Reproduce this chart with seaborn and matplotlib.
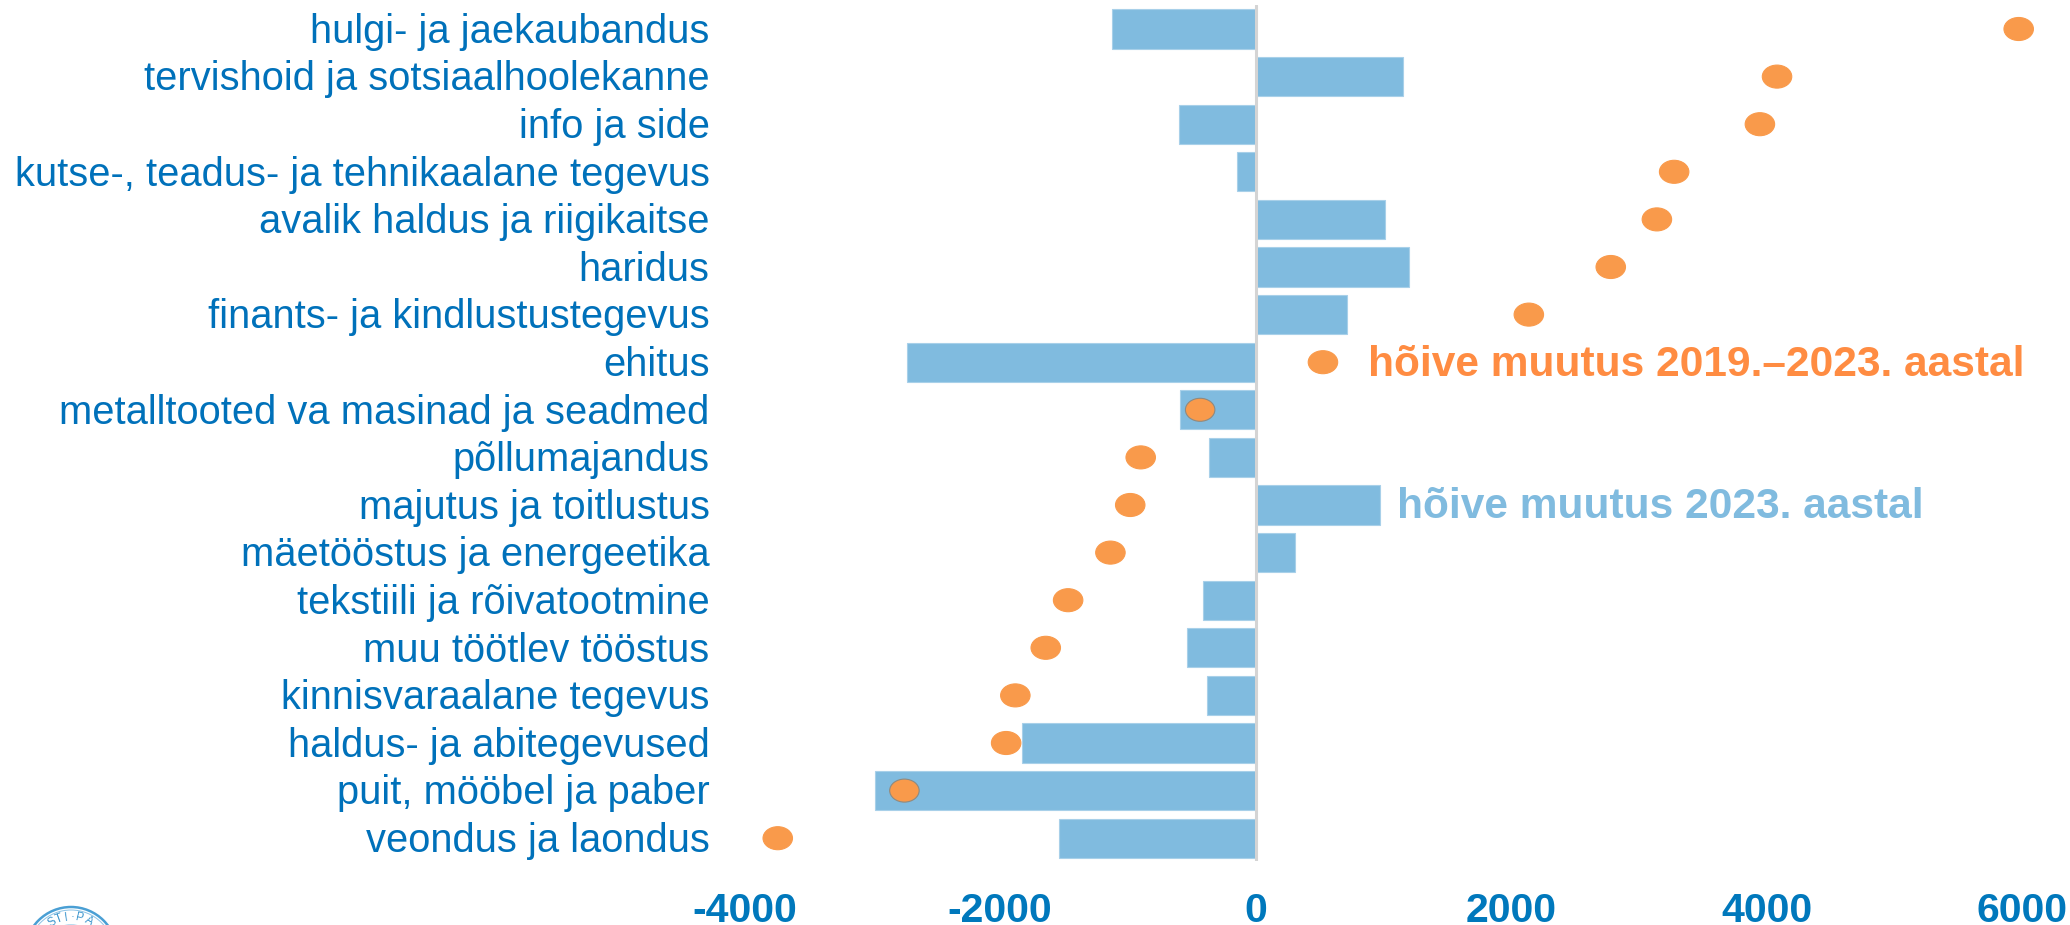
import math
import matplotlib
matplotlib.use("Agg")
import matplotlib.pyplot as plt
from matplotlib.path import Path
from matplotlib.patches import Circle
from matplotlib.transforms import Affine2D, IdentityTransform, ScaledTranslation
import pandas as pd
import seaborn as sns

categories = ["hulgi- ja jaekaubandus", "tervishoid ja sotsiaalhoolekanne", "info ja side",
              "kutse-, teadus- ja tehnikaalane tegevus", "avalik haldus ja riigikaitse", "haridus",
              "finants- ja kindlustustegevus", "ehitus", "metalltooted va masinad ja seadmed",
              "põllumajandus", "majutus ja toitlustus", "mäetööstus ja energeetika",
              "tekstiili ja rõivatootmine", "muu töötlev tööstus", "kinnisvaraalane tegevus",
              "haldus- ja abitegevused", "puit, mööbel ja paber", "veondus ja laondus"]
change_2023 = [-1126, 1157, -599, -145, 1012, 1198, 713, -2727, -589,
               -362, 971, 310, -413, -537, -382, -1828, -2975, -1539]
change_2019_2023 = [5971, 4080, 3946, 3275, 3140, 2779, 2138, 527, -434,
                    -899, -981, -1136, -1467, -1642, -1880, -1952, -2748, -3739]
x_ticks = [-4000, -2000, 0, 2000, 4000, 6000]
x_tick_labels = ["-4000", "-2000", "0", "2000", "4000", "6000"]
label_2023 = "hõive muutus 2023. aastal"
label_period = "hõive muutus 2019.–2023. aastal"

BAR = "#80BBDF"
DOT = "#F99A4B"
DOT_EDGE = "#8F8A80"
BLUE = "#0071BA"
TICK = "#0078BC"
ORANGE = "#FF8C42"
W, H = 2070, 925

sns.set_theme(style="white")
plt.rcParams["font.family"] = ["Liberation Sans", "DejaVu Sans"]

df = pd.DataFrame({"cat": categories, "a": change_2023, "b": change_2019_2023})
fig = plt.figure(figsize=(W / 100, H / 100), dpi=100, facecolor="white")
left, right, top, bottom = 744.4, 2022.4, 5, 861
ax = fig.add_axes([left / W, 1 - bottom / H, (right - left) / W, (bottom - top) / H])

sns.barplot(data=df, y="cat", x="a", orient="y", color=BAR, saturation=1, width=0.82,
            edgecolor="#A8D0E9", linewidth=0.8, ax=ax)
# Dots lying on a bar show a thin grey rim in the reference
edges = [DOT_EDGE if a * b > 0 and abs(b) < abs(a) else DOT
         for a, b in zip(change_2023, change_2019_2023)]
ellipse = Path.unit_circle().transformed(Affine2D().scale(1.28, 1.0))
sns.scatterplot(data=df, y="cat", x="b", marker=ellipse, s=450, color=DOT, edgecolor=edges,
                linewidth=0.8, zorder=3, ax=ax, clip_on=False)

ax.set_xlim(-4000, 6000)
ax.set_ylim((bottom - 29) / 47.6, (top - 29) / 47.6)
ax.set_xticks(x_ticks, x_tick_labels)
ax.set_xlabel("")
ax.set_ylabel("")
for s in ["top", "right", "bottom", "left"]:
    ax.spines[s].set_visible(False)
ax.axvline(0, color="#D4D4D4", lw=2.2, zorder=2.5)
ax.tick_params(axis="y", length=0, pad=25, labelsize=28.7, labelcolor=BLUE)
ax.tick_params(axis="x", length=0, pad=22, labelsize=29.5, labelcolor=TICK)
for t in ax.get_xticklabels():
    t.set_fontweight("bold")
    t.set_clip_on(False)
up = ScaledTranslation(0, 1.2 / 100, fig.dpi_scale_trans)
for t in ax.get_yticklabels():
    t.set_transform(t.get_transform() + up)

ax.text(882, 7.05, label_period, color=ORANGE, fontsize=30.6, fontweight="bold", va="center", ha="left")
ax.text(1108, 10.05, label_2023, color=BAR, fontsize=30.6, fontweight="bold", va="center", ha="left")

# Emblem at the lower left, cut off by the edge of the picture
cx, cy_top, r = 71, 907, 46
cy = H - (cy_top + r)
px = IdentityTransform()
for rad, lw, col in [(r, 1.8, "#4A9FD4"), (r - 3, 0.7, "#8CC3E6"), (28, 1.2, "#A9D3EC")]:
    fig.add_artist(Circle((cx, cy), rad, transform=px, fill=False, ec=col, lw=lw))
for letter, angle in [("S", -32), ("T", -20), ("I", -8), ("·", 2), ("P", 13), ("A", 30)]:
    a = math.radians(angle)
    fig.text(cx + 36 * math.sin(a), cy + 36 * math.cos(a), letter, transform=px, fontsize=8.5,
             color="#3F97CE", ha="center", va="center", rotation=-angle)

fig.savefig("out.png", dpi=100)
